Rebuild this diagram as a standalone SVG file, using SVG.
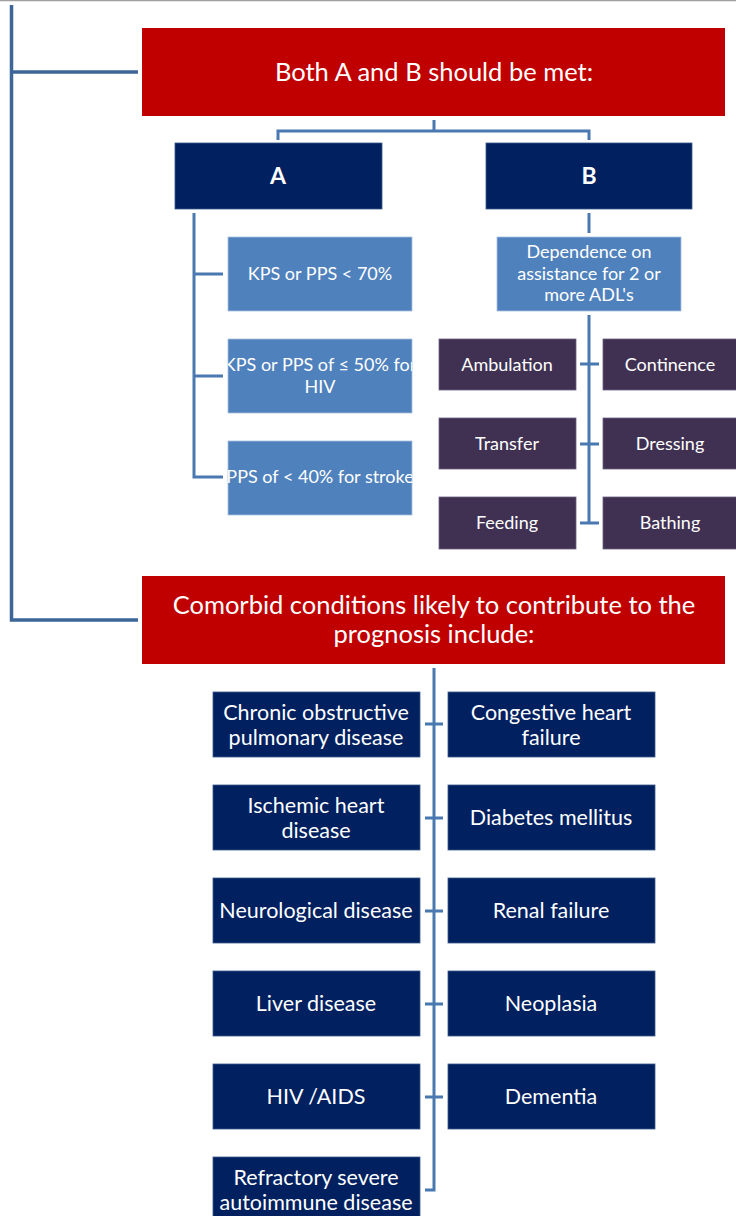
<svg xmlns="http://www.w3.org/2000/svg" width="736" height="1216" viewBox="0 0 736 1216">
<style>
text{font-family:Lato,"Noto Sans","Liberation Sans",sans-serif;fill:#ffffff;text-anchor:middle}
.red{fill:#c00000}
.navy{fill:#002060;stroke:#3a5a8c;stroke-width:0.8}
.mid{fill:#4f81bd;stroke:#a9c0de;stroke-width:0.8}
.pur{fill:#403152;stroke:#6a6080;stroke-width:0.8}
.t22{font-size:25.5px}
.tab{font-size:23px}
.t20{font-size:21.5px}
.t16{font-size:18px}
.bold{font-weight:bold}
.con{fill:none;stroke:#4a78b0;stroke-width:3}
.outer{fill:none;stroke:#3d6698;stroke-width:3.5}
</style>
<defs>
<clipPath id="c1"><rect x="228" y="339" width="184" height="74"/></clipPath>
<clipPath id="c2"><rect x="228" y="441" width="184" height="74"/></clipPath>
</defs>
<line x1="0" y1="0.5" x2="736" y2="0.5" stroke="#a0a0a0" stroke-width="1.5"/>
<g id="connectors">
<path class="outer" d="M11.5,5 V620 H138 M11.5,72 H138"/>
<path class="con" d="M434,120 V131 M278,140 V131 H589 V140"/>
<path class="con" d="M194,213 V477 H223 M194,274 H223 M194,376 H223"/>
<path class="con" d="M589,213 V233"/>
<path class="con" d="M589,315 V523 M580,364 H599 M580,444 H599 M580,523 H599"/>
<path class="con" d="M434,668 V1190 H425 M425,724 H443 M425,818 H443 M425,911 H443 M425,1004 H443 M425,1097 H443"/>
</g>
<g id="top"><rect class="red" x="142" y="28" width="583" height="88"/><text class="t22" x="434" y="81">Both A and B should be met:</text></g>
<g id="A"><rect class="navy" x="175" y="143" width="207" height="66"/><text class="tab bold" x="278" y="184">A</text></g>
<g id="B"><rect class="navy" x="486" y="143" width="206" height="66"/><text class="tab bold" x="589" y="184">B</text></g>
<g id="kps1"><rect class="mid" x="228" y="237" width="184" height="74"/><text class="t16" x="320" y="280">KPS or PPS &lt; 70%</text></g>
<g id="kps2"><rect class="mid" x="228" y="339" width="184" height="74"/><g clip-path="url(#c1)"><text class="t16" x="320" y="371">KPS or PPS of ≤ 50% for</text><text class="t16" x="320" y="392.5">HIV</text></g></g>
<g id="pps"><rect class="mid" x="228" y="441" width="184" height="74"/><g clip-path="url(#c2)"><text class="t16" x="320" y="483">PPS of &lt; 40% for stroke</text></g></g>
<g id="dep"><rect class="mid" x="497" y="237" width="184" height="74"/><text class="t16" x="589" y="258">Dependence on</text><text class="t16" x="589" y="279.5">assistance for 2 or</text><text class="t16" x="589" y="301">more ADL's</text></g>
<g id="ambulation"><rect class="pur" x="439" y="339" width="137" height="51"/><text class="t16" x="507" y="370.5">Ambulation</text></g>
<g id="continence"><rect class="pur" x="603" y="339" width="136" height="51"/><text class="t16" x="670" y="370.5">Continence</text></g>
<g id="transfer"><rect class="pur" x="439" y="418" width="137" height="51"/><text class="t16" x="507" y="449.5">Transfer</text></g>
<g id="dressing"><rect class="pur" x="603" y="418" width="136" height="51"/><text class="t16" x="670" y="449.5">Dressing</text></g>
<g id="feeding"><rect class="pur" x="439" y="497" width="137" height="52"/><text class="t16" x="507" y="528.5">Feeding</text></g>
<g id="bathing"><rect class="pur" x="603" y="497" width="136" height="52"/><text class="t16" x="670" y="528.5">Bathing</text></g>
<g id="comorbid"><rect class="red" x="142" y="576" width="583" height="88"/><text class="t22" x="434" y="614">Comorbid conditions likely to contribute to the</text><text class="t22" x="434" y="643">prognosis include:</text></g>
<g id="copd"><rect class="navy" x="213" y="692" width="207" height="65"/><text class="t20" x="316" y="719.5">Chronic obstructive</text><text class="t20" x="316" y="744.5">pulmonary disease</text></g>
<g id="chf"><rect class="navy" x="448" y="692" width="207" height="65"/><text class="t20" x="551" y="719.5">Congestive heart</text><text class="t20" x="551" y="744.5">failure</text></g>
<g id="ihd"><rect class="navy" x="213" y="785" width="207" height="65"/><text class="t20" x="316" y="812.5">Ischemic heart</text><text class="t20" x="316" y="837.5">disease</text></g>
<g id="dm"><rect class="navy" x="448" y="785" width="207" height="65"/><text class="t20" x="551" y="825">Diabetes mellitus</text></g>
<g id="neuro"><rect class="navy" x="213" y="878" width="207" height="65"/><text class="t20" x="316" y="918">Neurological disease</text></g>
<g id="renal"><rect class="navy" x="448" y="878" width="207" height="65"/><text class="t20" x="551" y="918">Renal failure</text></g>
<g id="liver"><rect class="navy" x="213" y="971" width="207" height="65"/><text class="t20" x="316" y="1011">Liver disease</text></g>
<g id="neoplasia"><rect class="navy" x="448" y="971" width="207" height="65"/><text class="t20" x="551" y="1011">Neoplasia</text></g>
<g id="hiv"><rect class="navy" x="213" y="1064" width="207" height="65"/><text class="t20" x="316" y="1104">HIV /AIDS</text></g>
<g id="dementia"><rect class="navy" x="448" y="1064" width="207" height="65"/><text class="t20" x="551" y="1104">Dementia</text></g>
<g id="autoimmune"><rect class="navy" x="213" y="1157" width="207" height="65"/><text class="t20" x="316" y="1184.5">Refractory severe</text><text class="t20" x="316" y="1209.5">autoimmune disease</text></g>
</svg>
